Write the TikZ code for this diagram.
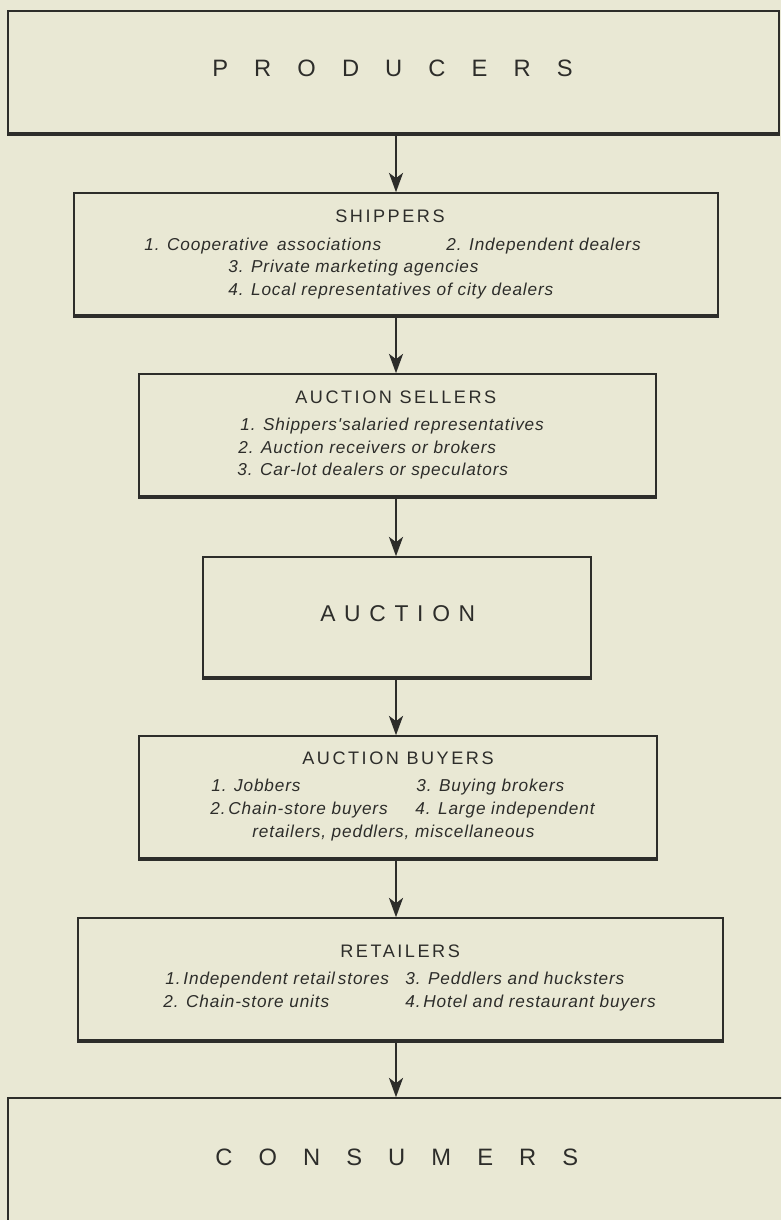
\documentclass[tikz,border=0pt]{standalone}
\usepackage{fontspec}
\setmainfont{Liberation Sans}
\newfontfamily\headfont[LetterSpace=14]{Liberation Sans}
\newfontfamily\listfont[LetterSpace=5]{Liberation Sans}
\newfontfamily\widefont[LetterSpace=110]{Liberation Sans}
\newfontfamily\auctfont[LetterSpace=38]{Liberation Sans}
\usetikzlibrary{arrows.meta,fit}
\definecolor{paper}{RGB}{233,232,212}
\definecolor{ink}{RGB}{45,45,42}
\newcommand{\heavybase}[1]
{   \draw[ink, line width=2pt] (#1.south west) -- (#1.south east);
}

\begin{document}
\begin{tikzpicture}[x=0.02cm,y=-0.02cm,
  stage/.style={draw=ink, line width=0.9pt, inner sep=0pt},
  flow/.style={draw=ink, line width=1.2pt, -{Stealth[length=11pt,width=8pt,inset=3pt]}},
  head/.style={anchor=mid west, inner sep=0pt, text=ink, font=\headfont\fontsize{10.3}{12}\selectfont},
  item/.style={anchor=mid west, inner sep=0pt, text=ink, font=\listfont\itshape\fontsize{9.8}{11}\selectfont},
  wide/.style={anchor=mid west, inner sep=0pt, text=ink, font=\widefont\fontsize{13.5}{16}\selectfont},
  auct/.style={anchor=mid west, inner sep=0pt, text=ink, font=\auctfont\fontsize{13}{16}\selectfont}]

 \path[use as bounding box] (0,0) rectangle (781,1220);
 \clip (0,0) rectangle (781,1220);
 \fill[paper] (0,0) rectangle (781,1220);
 \coordinate (axis) at (396,0);

 % the stages
 \node[stage, fit={(8,11) (779,133)}] (producers) {};
 \node[stage, fit={(74,193) (718,315)}] (shippers) {};
 \node[stage, fit={(139,374) (656,496)}] (sellers) {};
 \node[stage, fit={(203,557) (591,677)}] (auction) {};
 \node[stage, fit={(139,736) (657,858)}] (buyers) {};
 \node[stage, fit={(78,918) (723,1040)}] (retailers) {};
 \node[stage, fit={(8,1098) (800,1260)}] (consumers) {};
 \heavybase{producers} \heavybase{shippers} \heavybase{sellers}
 \heavybase{auction} \heavybase{buyers} \heavybase{retailers}

 % the flow
 \draw[flow] (producers.south -| axis) -- (shippers.north -| axis);
 \draw[flow] (shippers.south -| axis) -- (sellers.north -| axis);
 \draw[flow] (sellers.south -| axis) -- (auction.north -| axis);
 \draw[flow] (auction.south -| axis) -- (buyers.north -| axis);
 \draw[flow] (buyers.south -| axis) -- (retailers.north -| axis);
 \draw[flow] (retailers.south -| axis) -- (consumers.north -| axis);

 % labels
 \node[wide] (prodtext) at (212,72) {PRODUCERS};

 \node[head] (shiphead) at (335,218) {SHIPPERS};
 \node[item] (ship1) at (144,246) {1. Cooperative\, associations};
 \node[item] (ship2) at (446,246) {2. Independent dealers};
 \node[item] (ship3) at (228,268) {3. Private marketing agencies};
 \node[item] (ship4) at (228,291) {4. Local representatives of city dealers};

 \node[head] (sellhead) at (295,399) {AUCTION SELLERS};
 \node[item] (sell1) at (240,426) {1. Shippers'salaried representatives};
 \node[item] (sell2) at (238,449) {2. Auction receivers or brokers};
 \node[item] (sell3) at (237,471) {3. Car-lot dealers or speculators};

 \node[auct] (aucttext) at (320,617) {AUCTION};

 \node[head] (buyhead) at (302,760) {AUCTION BUYERS};
 \node[item] (buy1) at (211,787) {1. Jobbers};
 \node[item] (buy3) at (416,787) {3. Buying brokers};
 \node[item] (buy2) at (210,810) {2.\,Chain-store buyers};
 \node[item] (buy4) at (415,810) {4. Large independent};
 \node[item] (buy5) at (252,833) {retailers, peddlers, miscellaneous};

 \node[head] (rethead) at (340,953) {RETAILERS};
 \node[item] (ret1) at (165,980) {1.\,Independent retail\,stores};
 \node[item] (ret3) at (405,980) {3. Peddlers and hucksters};
 \node[item] (ret2) at (163,1003) {2. Chain-store units};
 \node[item] (ret4) at (405,1003) {4.\,Hotel and restaurant buyers};

 \node[wide] (constext) at (215,1161) {CONSUMERS};

\end{tikzpicture}
\end{document}
